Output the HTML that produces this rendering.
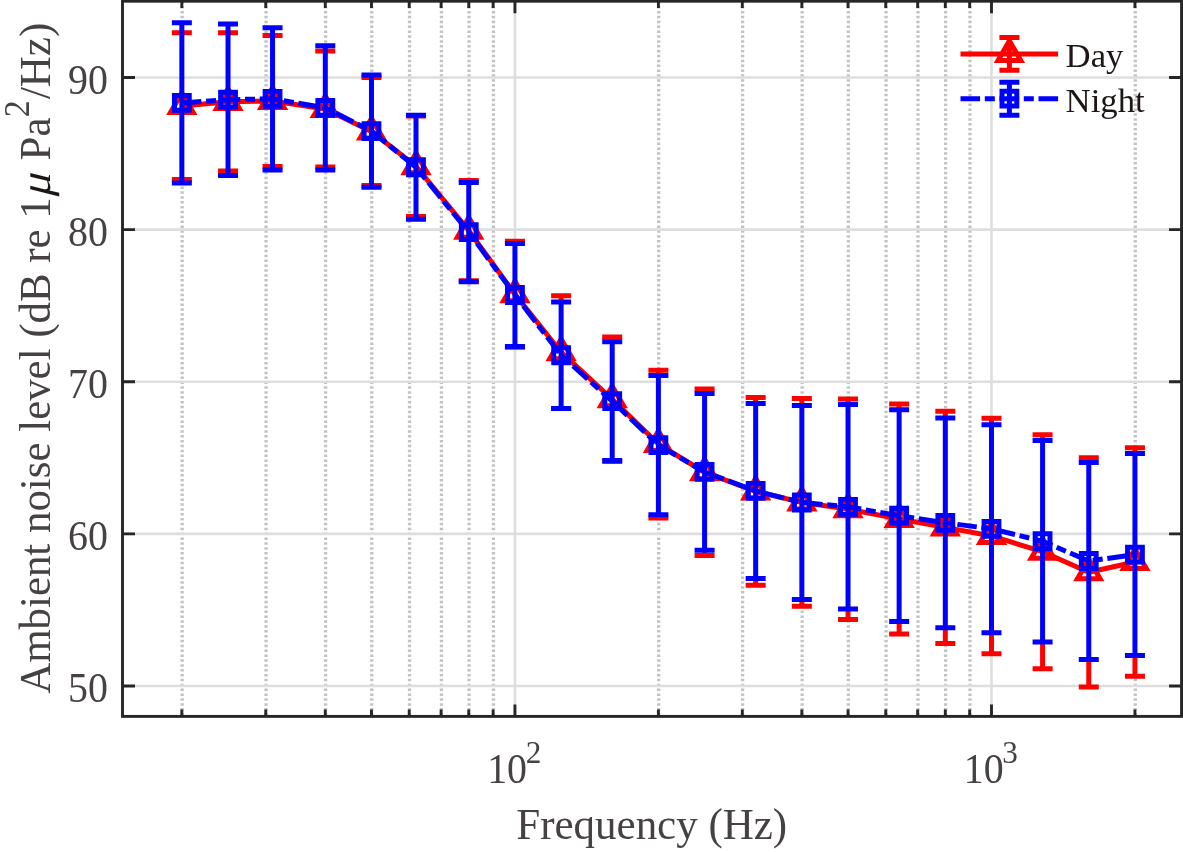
<!DOCTYPE html>
<html lang="en"><head><meta charset="utf-8"><title>Ambient noise level</title>
<style>html,body{margin:0;padding:0;background:#fff}body{width:1183px;height:852px;overflow:hidden}svg{display:block}</style>
</head><body>
<svg width="1183" height="852" viewBox="0 0 1183 852">
<rect width="1183" height="852" fill="#fff"/>
<g stroke="#c3c3c3" stroke-width="3.3" stroke-dasharray="2.5 2.375" fill="none">
<line x1="182.15" y1="1.20" x2="182.15" y2="716.40"/>
<line x1="266.06" y1="1.20" x2="266.06" y2="716.40"/>
<line x1="325.60" y1="1.20" x2="325.60" y2="716.40"/>
<line x1="371.78" y1="1.20" x2="371.78" y2="716.40"/>
<line x1="409.52" y1="1.20" x2="409.52" y2="716.40"/>
<line x1="441.42" y1="1.20" x2="441.42" y2="716.40"/>
<line x1="469.06" y1="1.20" x2="469.06" y2="716.40"/>
<line x1="493.43" y1="1.20" x2="493.43" y2="716.40"/>
<line x1="658.70" y1="1.20" x2="658.70" y2="716.40"/>
<line x1="742.61" y1="1.20" x2="742.61" y2="716.40"/>
<line x1="802.15" y1="1.20" x2="802.15" y2="716.40"/>
<line x1="848.33" y1="1.20" x2="848.33" y2="716.40"/>
<line x1="886.07" y1="1.20" x2="886.07" y2="716.40"/>
<line x1="917.97" y1="1.20" x2="917.97" y2="716.40"/>
<line x1="945.61" y1="1.20" x2="945.61" y2="716.40"/>
<line x1="969.98" y1="1.20" x2="969.98" y2="716.40"/>
<line x1="1135.25" y1="1.20" x2="1135.25" y2="716.40"/>
</g>
<g stroke="#dedede" stroke-width="2.6" fill="none">
<line x1="514.94" y1="1.2" x2="514.94" y2="716.4"/>
<line x1="991.49" y1="1.2" x2="991.49" y2="716.4"/>
<line x1="122.5" y1="686.00" x2="1181.55" y2="686.00"/>
<line x1="122.5" y1="533.88" x2="1181.55" y2="533.88"/>
<line x1="122.5" y1="381.75" x2="1181.55" y2="381.75"/>
<line x1="122.5" y1="229.62" x2="1181.55" y2="229.62"/>
<line x1="122.5" y1="77.50" x2="1181.55" y2="77.50"/>
</g>
<g stroke="#ff0000" stroke-width="5.0" fill="none" stroke-linejoin="miter">
<polyline points="181.85,106.05 228.03,101.85 272.55,100.95 325.30,109.05 371.48,131.55 416.00,166.25 468.76,230.65 514.94,294.25 561.12,352.20 612.21,399.25 658.40,444.05 704.58,472.25 755.67,491.38 801.85,502.32 848.03,509.15 899.13,518.95 945.31,527.35 991.49,535.95 1042.58,551.73 1088.76,572.30 1134.95,561.98" stroke-linejoin="round"/>
<path d="M171.85 32.70H191.85M171.85 179.40H191.85M218.03 32.70H238.03M218.03 171.00H238.03M262.55 35.40H282.55M262.55 166.50H282.55M315.30 51.00H335.30M315.30 167.10H335.30M361.48 77.50H381.48M361.48 185.60H381.48M406.00 116.00H426.00M406.00 216.50H426.00M458.76 180.60H478.76M458.76 280.70H478.76M504.94 241.25H524.94M504.94 347.25H524.94M561.12 295.80V302.10M551.12 295.80H571.12M551.12 408.60H571.12M612.21 337.00V341.80M602.21 337.00H622.21M602.21 461.50H622.21M658.40 370.20V375.40M658.40 514.75V517.90M648.40 370.20H668.40M648.40 517.90H668.40M704.58 388.90V393.60M704.58 550.30V555.60M694.58 388.90H714.58M694.58 555.60H714.58M755.67 397.50V403.40M755.67 578.50V585.25M745.67 397.50H765.67M745.67 585.25H765.67M801.85 398.40V405.60M801.85 599.40V606.25M791.85 398.40H811.85M791.85 606.25H811.85M848.03 398.90V404.60M848.03 609.00V619.40M838.03 398.90H858.03M838.03 619.40H858.03M899.13 403.90V409.80M899.13 621.60V634.00M889.13 403.90H909.13M889.13 634.00H909.13M945.31 411.20V417.90M945.31 627.70V643.50M935.31 411.20H955.31M935.31 643.50H955.31M991.49 418.20V424.80M991.49 632.80V653.70M981.49 418.20H1001.49M981.49 653.70H1001.49M1042.58 434.70V440.50M1042.58 642.00V668.75M1032.58 434.70H1052.58M1032.58 668.75H1052.58M1088.76 457.70V462.50M1088.76 659.50V686.90M1078.76 457.70H1098.76M1078.76 686.90H1098.76M1134.95 447.70V453.60M1134.95 655.60V676.25M1124.95 447.70H1144.95M1124.95 676.25H1144.95"/>
<path d="M181.85 92.95L193.20 112.60H170.50ZM228.03 88.75L239.38 108.40H216.68ZM272.55 87.85L283.90 107.50H261.20ZM325.30 95.95L336.65 115.60H313.95ZM371.48 118.45L382.83 138.10H360.13ZM416.00 153.15L427.35 172.80H404.65ZM468.76 217.55L480.11 237.20H457.41ZM514.94 281.15L526.29 300.80H503.59ZM561.12 339.10L572.47 358.75H549.77ZM612.21 386.15L623.56 405.80H600.86ZM658.40 430.95L669.75 450.60H647.05ZM704.58 459.15L715.93 478.80H693.23ZM755.67 478.27L767.02 497.93H744.32ZM801.85 489.22L813.20 508.88H790.50ZM848.03 496.05L859.38 515.70H836.68ZM899.13 505.85L910.48 525.50H887.78ZM945.31 514.25L956.66 533.90H933.96ZM991.49 522.85L1002.84 542.50H980.14ZM1042.58 538.62L1053.93 558.27H1031.23ZM1088.76 559.20L1100.11 578.85H1077.41ZM1134.95 548.88L1146.30 568.52H1123.60Z"/>
</g>
<g stroke="#0000ff" stroke-width="5.0" fill="none" stroke-linejoin="miter">
<polyline points="181.85,102.90 228.03,99.65 272.55,98.85 325.30,107.83 371.48,131.10 416.00,167.25 468.76,232.10 514.94,295.00 561.12,355.25 612.21,401.10 658.40,445.07 704.58,471.95 755.67,490.95 801.85,502.50 848.03,506.80 899.13,515.70 945.31,522.80 991.49,528.80 1042.58,541.25 1088.76,561.00 1134.95,554.60" stroke-dasharray="19.6 4.7 10 4.7" stroke-linejoin="round"/>
<path d="M181.85 22.70V183.10M171.85 22.70H191.85M171.85 183.10H191.85M228.03 23.90V175.40M218.03 23.90H238.03M218.03 175.40H238.03M272.55 27.70V170.00M262.55 27.70H282.55M262.55 170.00H282.55M325.30 45.75V169.90M315.30 45.75H335.30M315.30 169.90H335.30M371.48 74.90V187.30M361.48 74.90H381.48M361.48 187.30H381.48M416.00 115.30V219.20M406.00 115.30H426.00M406.00 219.20H426.00M468.76 182.50V281.70M458.76 182.50H478.76M458.76 281.70H478.76M514.94 243.50V346.50M504.94 243.50H524.94M504.94 346.50H524.94M561.12 302.10V408.40M551.12 302.10H571.12M551.12 408.40H571.12M612.21 341.80V460.40M602.21 341.80H622.21M602.21 460.40H622.21M658.40 375.40V514.75M648.40 375.40H668.40M648.40 514.75H668.40M704.58 393.60V550.30M694.58 393.60H714.58M694.58 550.30H714.58M755.67 403.40V578.50M745.67 403.40H765.67M745.67 578.50H765.67M801.85 405.60V599.40M791.85 405.60H811.85M791.85 599.40H811.85M848.03 404.60V609.00M838.03 404.60H858.03M838.03 609.00H858.03M899.13 409.80V621.60M889.13 409.80H909.13M889.13 621.60H909.13M945.31 417.90V627.70M935.31 417.90H955.31M935.31 627.70H955.31M991.49 424.80V632.80M981.49 424.80H1001.49M981.49 632.80H1001.49M1042.58 440.50V642.00M1032.58 440.50H1052.58M1032.58 642.00H1052.58M1088.76 462.50V659.50M1078.76 462.50H1098.76M1078.76 659.50H1098.76M1134.95 453.60V655.60M1124.95 453.60H1144.95M1124.95 655.60H1144.95"/>
<path d="M174.45 95.50H189.25V110.30H174.45ZM220.63 92.25H235.43V107.05H220.63ZM265.15 91.45H279.95V106.25H265.15ZM317.90 100.42H332.70V115.23H317.90ZM364.08 123.70H378.88V138.50H364.08ZM408.60 159.85H423.40V174.65H408.60ZM461.36 224.70H476.16V239.50H461.36ZM507.54 287.60H522.34V302.40H507.54ZM553.72 347.85H568.52V362.65H553.72ZM604.81 393.70H619.61V408.50H604.81ZM651.00 437.68H665.80V452.47H651.00ZM697.18 464.55H711.98V479.35H697.18ZM748.27 483.55H763.07V498.35H748.27ZM794.45 495.10H809.25V509.90H794.45ZM840.63 499.40H855.43V514.20H840.63ZM891.73 508.30H906.53V523.10H891.73ZM937.91 515.40H952.71V530.20H937.91ZM984.09 521.40H998.89V536.20H984.09ZM1035.18 533.85H1049.98V548.65H1035.18ZM1081.36 553.60H1096.16V568.40H1081.36ZM1127.55 547.20H1142.35V562.00H1127.55Z"/>
</g>
<g stroke="#262626" stroke-width="2.9" fill="none">
<rect x="122.5" y="1.2" width="1059.05" height="715.20"/>
<path d="M181.85 716.4v-6.8M181.85 1.2v6.8M265.76 716.4v-6.8M265.76 1.2v6.8M325.30 716.4v-6.8M325.30 1.2v6.8M371.48 716.4v-6.8M371.48 1.2v6.8M409.22 716.4v-6.8M409.22 1.2v6.8M441.12 716.4v-6.8M441.12 1.2v6.8M468.76 716.4v-6.8M468.76 1.2v6.8M493.13 716.4v-6.8M493.13 1.2v6.8M658.40 716.4v-6.8M658.40 1.2v6.8M742.31 716.4v-6.8M742.31 1.2v6.8M801.85 716.4v-6.8M801.85 1.2v6.8M848.03 716.4v-6.8M848.03 1.2v6.8M885.77 716.4v-6.8M885.77 1.2v6.8M917.67 716.4v-6.8M917.67 1.2v6.8M945.31 716.4v-6.8M945.31 1.2v6.8M969.68 716.4v-6.8M969.68 1.2v6.8M1134.95 716.4v-6.8M1134.95 1.2v6.8M514.94 716.4v-12M514.94 1.2v12M991.49 716.4v-12M991.49 1.2v12M122.5 686.00h12.5M1181.55 686.00h-12.5M122.5 533.88h12.5M1181.55 533.88h-12.5M122.5 381.75h12.5M1181.55 381.75h-12.5M122.5 229.62h12.5M1181.55 229.62h-12.5M122.5 77.50h12.5M1181.55 77.50h-12.5"/>
</g>
<g stroke="#ff0000" stroke-width="5.0" fill="none">
<path d="M960.5 53.9H1058.1M1009.4 37.599999999999994V70.2M999.4 37.599999999999994H1019.4M999.4 70.2H1019.4M1009.40 40.80L1020.75 60.45H998.05Z"/>
</g>
<g stroke="#0000ff" stroke-width="5.0" fill="none">
<path d="M960.5 98.7H1058.1" stroke-dasharray="19.6 4.7 10 4.7"/>
<path d="M1009.4 82.2V115.2M999.4 82.2H1019.4M999.4 115.2H1019.4M1002.00 91.30H1016.80V106.10H1002.00Z"/>
</g>
<g font-family="'Liberation Serif', 'Times New Roman', serif" fill="#1c1715" font-size="34.7">
<text x="1065.6" y="66.5">Day</text>
<text x="1065.6" y="112.4">Night</text>
</g>
<g font-family="'Liberation Serif', 'Times New Roman', serif" fill="#464241" font-size="39.9">
<text transform="translate(107.9,702.10) scale(1,1.045)" text-anchor="end">50</text>
<text transform="translate(107.9,549.98) scale(1,1.045)" text-anchor="end">60</text>
<text transform="translate(107.9,397.85) scale(1,1.045)" text-anchor="end">70</text>
<text transform="translate(107.9,245.72) scale(1,1.045)" text-anchor="end">80</text>
<text transform="translate(107.9,93.60) scale(1,1.045)" text-anchor="end">90</text>
<text transform="translate(487.14,783.1) scale(1,1.045)">10<tspan font-size="31.2" dx="-1.2" dy="-18.8">2</tspan></text>
<text transform="translate(963.69,783.1) scale(1,1.045)">10<tspan font-size="31.2" dx="-1.2" dy="-18.8">3</tspan></text>
</g>
<g font-family="'Liberation Serif', 'Times New Roman', serif" fill="#464241" font-size="43">
<text transform="translate(516.3,838.8) scale(1,1.03)">Frequency (Hz)</text>
<text transform="translate(49.6,693.8) rotate(-90) scale(1,1.03)" font-size="42.9"><tspan x="0">Ambient noise level (dB re 1</tspan></text>
<text transform="translate(49.6,198.0) rotate(-90) skewX(-14) scale(1.07,1)" fill="#1c1715">μ </text>
<text transform="translate(49.6,693.8) rotate(-90) scale(1,1.03)"><tspan x="533.4">Pa</tspan><tspan x="576.5" font-size="34" dy="-19.7">2</tspan><tspan x="594.7" dy="19.7">/Hz)</tspan></text>
</g>
</svg>
</body></html>
